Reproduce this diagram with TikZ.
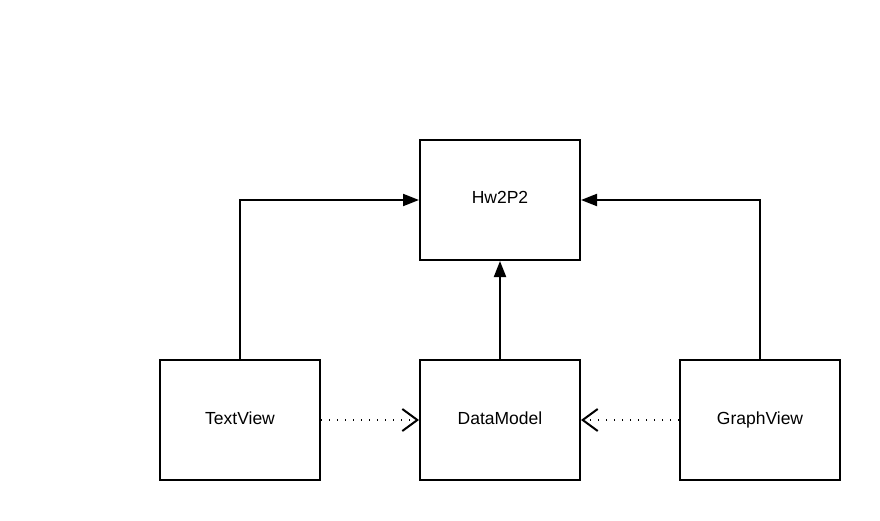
\documentclass[tikz,border=0pt]{standalone}
\usepackage{fontspec}
\setmainfont{Liberation Sans}
\usetikzlibrary{arrows.meta}
\begin{document}
\begin{tikzpicture}[x=1pt,y=-1pt,
  cls/.style={draw,line width=2pt,minimum width=160pt,minimum height=120pt,inner sep=0pt},
  lbl/.style={anchor=base,inner sep=0pt,font=\fontsize{17.5}{20}\selectfont},
  assoc/.style={line width=2pt,-{Triangle[length=16pt,width=12pt]}},
  dep/.style={line width=1.5pt,dash pattern=on 1.2pt off 6.8pt,-{Straight Barb[length=15pt,width=22pt,line width=2pt]}}]
\useasboundingbox (0,0) rectangle (880,521);
\fill[white] (0,0) rectangle (880,521);
\node[cls] (hw) at (500,200) {};
\node[cls] (tv) at (240,420) {};
\node[cls] (dm) at (500,420) {};
\node[cls] (gv) at (760,420) {};
\node[lbl] (hwl) at (500,204) {Hw2P2};
\node[lbl] (tvl) at (240,424) {TextView};
\node[lbl] (dml) at (500,424) {DataModel};
\node[lbl] (gvl) at (760,424) {GraphView};
\draw[assoc] (tv.north) |- (hw.west);
\draw[assoc] (gv.north) |- (hw.east);
\draw[assoc] (dm.north) -- (hw.south);
\draw[dep] (tv.east) -- (dm.west);
\draw[dep] (gv.west) -- (dm.east);
\end{tikzpicture}
\end{document}
